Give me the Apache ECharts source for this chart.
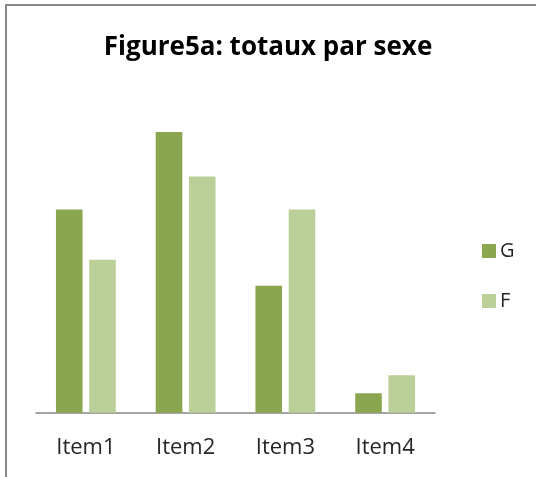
<!DOCTYPE html>
<html>
<head>
<meta charset="utf-8">
<script src="https://cdn.jsdelivr.net/npm/echarts@6/dist/echarts.min.js"></script>
<style>
  html, body { margin: 0; padding: 0; background: #fff; }
  #chart { width: 536px; height: 477px; }
</style>
</head>
<body>
<div id="chart"></div>
<script>
const categories = ['Item1', 'Item2', 'Item3', 'Item4'];
const seriesNames = ['G', 'F'];
const valuesG = [16, 22.1, 10, 1.53];
const valuesF = [12.05, 18.6, 16, 2.95];

const COLORS = {
    g: '#8aa64f',
    f: '#bbd099',
    axis: '#868686',
    text: '#262626',
    border: '#878787',
};

const chart = echarts.init(document.getElementById('chart'), null, { renderer: 'canvas' });
chart.setOption({
    backgroundColor: '#fff',
    animation: false,
    textStyle: { fontFamily: 'Open Sans, sans-serif' },
    graphic: [{
        type: 'rect',
        shape: { x: 6, y: 5, width: 700, height: 700 },
        style: { fill: 'none', stroke: COLORS.border, lineWidth: 2 },
        silent: true,
    }],
    title: {
        text: 'Figure5a: totaux par sexe',
        left: 263,
        textAlign: 'center',
        top: 30,
        textStyle: { fontSize: 26, fontWeight: 'bold', color: '#000', fontFamily: 'Open Sans, sans-serif' },
    },
    legend: {
        data: seriesNames,
        orient: 'vertical',
        left: 477,
        top: 236,
        itemWidth: 14,
        itemHeight: 14,
        itemGap: 30,
        icon: 'rect',
        textStyle: { fontSize: 20, color: COLORS.text, padding: [0, 0, 0, -1] },
    },
    grid: { left: 36, right: 101, top: 95.2, height: 317.5 },
    xAxis: {
        type: 'category',
        data: categories,
        axisLine: { lineStyle: { color: COLORS.axis, width: 1.5 } },
        axisTick: { show: false },
        axisLabel: { fontSize: 22, color: COLORS.text, margin: 24 },
    },
    yAxis: {
        type: 'value',
        min: 0,
        max: 25,
        show: false,
    },
    series: [
        { name: 'G', type: 'bar', data: valuesG, barGap: '25%', barCategoryGap: '40%', itemStyle: { color: COLORS.g } },
        { name: 'F', type: 'bar', data: valuesF, itemStyle: { color: COLORS.f } },
    ],
});
</script>
</body>
</html>
